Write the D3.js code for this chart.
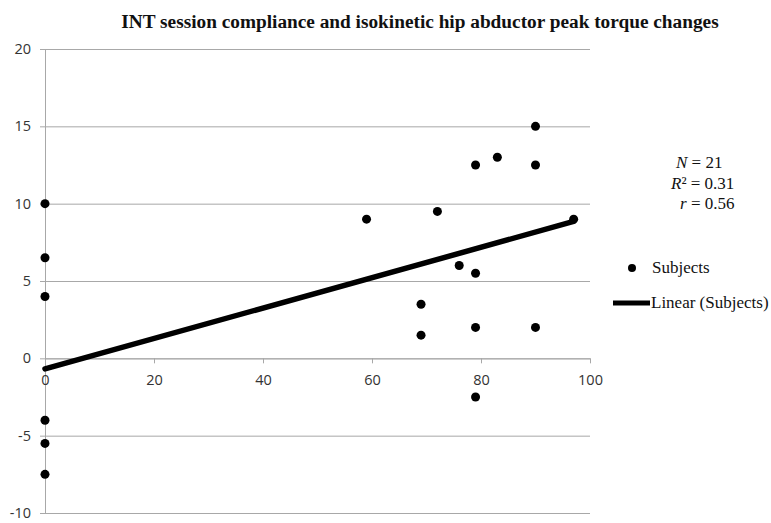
<!DOCTYPE html>
<html>
<head>
<meta charset="utf-8">
<script src="https://cdn.jsdelivr.net/npm/d3@7"></script>
<style>
  html, body { margin: 0; padding: 0; background: #fff; }
  svg { display: block; }
</style>
</head>
<body>
<svg id="chart" width="771" height="523"></svg>
<script>
// ---- data ----
const compliance = [0, 0, 0, 0, 0, 0, 59, 72, 69, 69, 76, 79, 79, 79, 79, 83, 90, 90, 90, 97];
const torqueChange = [10, 6.5, 4, -4, -5.5, -7.5, 9, 9.5, 3.5, 1.5, 6, 5.5, 2, 12.5, -2.5, 13, 15, 12.5, 2, 9];
const trendX = [0, 97];
const trendY = [-0.68, 8.85];
const xTicks = [0, 20, 40, 60, 80, 100];
const yTicks = [-10, -5, 0, 5, 10, 15, 20];
const titleText = "INT session compliance and isokinetic hip abductor peak torque changes";
const statsLines = [["N", " = 21"], ["R", "² = 0.31"], ["r", " = 0.56"]];
const legendLabels = ["Subjects", "Linear (Subjects)"];

// ---- layout ----
const svg = d3.select("#chart");
const x = d3.scaleLinear().domain([0, 100]).range([45, 590]);
const y = d3.scaleLinear().domain([-10, 20]).range([513, 49]);
const gridColor = "#a8a8a8";
const labelFont = "'Open Sans', 'Noto Sans', sans-serif";
const serif = "'Liberation Serif', 'Times New Roman', serif";
const plainFmt = d => String(d);

// title
svg.append("text")
  .attr("x", 420).attr("y", 28)
  .attr("text-anchor", "middle")
  .attr("font-family", serif)
  .attr("font-weight", "bold")
  .attr("font-size", 19.3)
  .attr("fill", "#111")
  .text(titleText);

// horizontal gridlines
svg.append("g")
  .attr("transform", `translate(${x(0)},0)`)
  .call(d3.axisLeft(y).tickValues(yTicks).tickSize(-(x(100) - x(0))).tickFormat(""))
  .call(g => g.select(".domain").remove())
  .call(g => g.selectAll("line").attr("stroke", gridColor));

// y axis
svg.append("g")
  .attr("transform", `translate(${x(0)},0)`)
  .call(d3.axisLeft(y).tickValues(yTicks).tickFormat(plainFmt).tickSize(5).tickSizeOuter(0).tickPadding(9))
  .call(g => g.select(".domain").attr("stroke", gridColor))
  .call(g => g.selectAll("line").attr("stroke", gridColor))
  .call(g => g.selectAll("text").attr("font-family", labelFont).attr("font-size", 14.5).attr("fill", "#333"));

// x axis at y=0
svg.append("g")
  .attr("transform", `translate(0,${y(0)})`)
  .call(d3.axisBottom(x).tickValues(xTicks).tickFormat(plainFmt).tickSize(5).tickSizeOuter(0).tickPadding(11))
  .call(g => g.select(".domain").attr("stroke", gridColor))
  .call(g => g.selectAll("line").attr("stroke", gridColor))
  .call(g => g.selectAll("text").attr("font-family", labelFont).attr("font-size", 14.5).attr("fill", "#333"));

// trend line
const trendPts = trendX.map((d, i) => [d, trendY[i]]);
svg.append("path")
  .datum(trendPts)
  .attr("d", d3.line().x(d => x(d[0])).y(d => y(d[1])))
  .attr("fill", "none")
  .attr("stroke", "#000")
  .attr("stroke-width", 5.5)
  .attr("stroke-linecap", "round");

// points
svg.append("g")
  .selectAll("circle")
  .data(compliance.map((d, i) => [d, torqueChange[i]]))
  .join("circle")
  .attr("cx", d => x(d[0]))
  .attr("cy", d => y(d[1]))
  .attr("r", 4.5)
  .attr("fill", "#000");

// stats annotation
const statsPos = [[676, 168], [671, 189], [680, 209]];
statsLines.forEach((s, i) => {
  const t = svg.append("text")
    .attr("x", statsPos[i][0]).attr("y", statsPos[i][1])
    .attr("font-family", serif).attr("font-size", 17).attr("fill", "#111");
  t.append("tspan").attr("font-style", "italic").text(s[0]);
  t.append("tspan").text(s[1]);
});

// legend
svg.append("circle").attr("cx", 632).attr("cy", 268).attr("r", 4).attr("fill", "#000");
svg.append("text").attr("x", 652).attr("y", 273)
  .attr("font-family", serif).attr("font-size", 17).attr("fill", "#111")
  .text(legendLabels[0]);
svg.append("line").attr("x1", 613).attr("x2", 650).attr("y1", 303).attr("y2", 303)
  .attr("stroke", "#000").attr("stroke-width", 5);
svg.append("text").attr("x", 651).attr("y", 308)
  .attr("font-family", serif).attr("font-size", 17).attr("fill", "#111")
  .text(legendLabels[1]);
</script>
</body>
</html>
